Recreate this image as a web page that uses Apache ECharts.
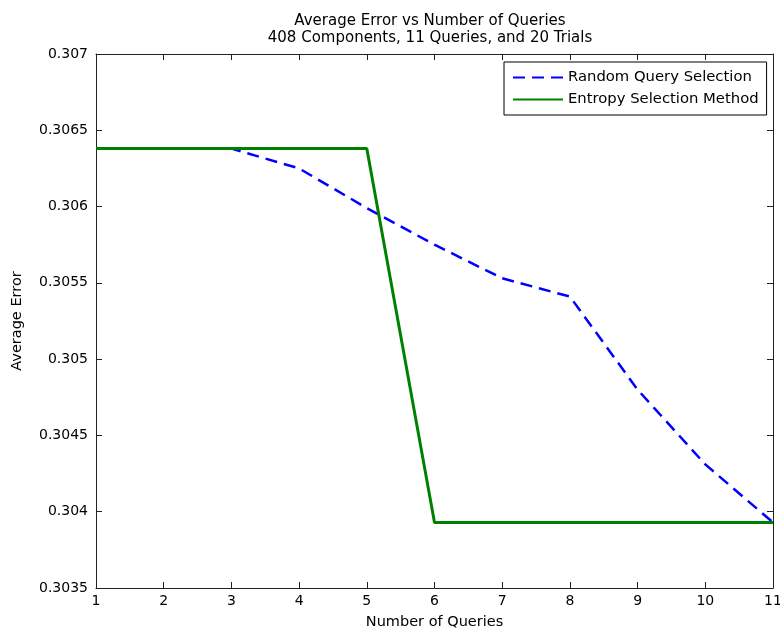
<!DOCTYPE html>
<html>

<head>
    <meta charset="utf-8">
    <title>Average Error vs Number of Queries</title>
    <script src="https://cdn.jsdelivr.net/npm/echarts@6/dist/echarts.min.js"></script>
    <style>
        html,
        body {
            width: 100%;
            height: 100%;
            margin: 0;
            padding: 0;
            overflow: hidden;
            background: #fff;
        }

        #main {
            width: 780px;
            height: 631px;
        }
    </style>
</head>

<body>
    <div id="main"></div>

    <script>
        // data
        const queries = [1, 2, 3, 4, 5, 6, 7, 8, 9, 10, 11];
        const randomErr = [0.30638, 0.30638, 0.30638, 0.30625, 0.30599, 0.30575, 0.30553, 0.30541, 0.30480, 0.30431, 0.30393];
        const entropyErr = [0.30638, 0.30638, 0.30638, 0.30638, 0.30638, 0.30393, 0.30393, 0.30393, 0.30393, 0.30393, 0.30393];
        const seriesNames = ['Random Query Selection', 'Entropy Selection Method'];

        const font = 'DejaVu Sans, Verdana, sans-serif';
        const axisColor = '#222';

        const pairs = arr => queries.map((q, i) => [q, arr[i]]);

        let myChart = echarts.init(document.getElementById('main'));

        const boxAxis = (extra) => Object.assign({
            type: 'value',
            axisLine: { show: true, onZero: false, lineStyle: { color: axisColor, width: 1 } },
            axisTick: { show: true, inside: true, length: 6, lineStyle: { color: axisColor } },
            splitLine: { show: false },
            axisLabel: { show: false }
        }, extra);

        const option = {
            animation: false,
            title: {
                text: 'Average Error vs Number of Queries\n408 Components, 11 Queries, and 20 Trials',
                left: 425,
                top: 8,
                textAlign: 'center',
                textStyle: {
                    fontFamily: font,
                    fontSize: 15,
                    fontWeight: 'normal',
                    color: '#000',
                    lineHeight: 17
                }
            },
            legend: {
                data: seriesNames,
                orient: 'vertical',
                left: 504,
                top: 62,
                itemWidth: 50,
                itemHeight: 14,
                itemGap: 7,
                padding: [8, 8, 8, 8],
                borderColor: '#000',
                borderWidth: 1,
                backgroundColor: '#fff',
                itemStyle: { opacity: 0 },
                textStyle: { fontFamily: font, fontSize: 14.8, color: '#000' }
            },
            grid: { left: 96, right: 7, top: 54, bottom: 43, outerBoundsMode: 'none' },
            xAxis: [
                boxAxis({
                    position: 'bottom',
                    min: 1, max: 11, interval: 1,
                    name: 'Number of Queries',
                    nameLocation: 'middle',
                    nameGap: 27,
                    nameTextStyle: { fontFamily: font, fontSize: 14.5, color: '#000' },
                    axisLabel: { show: true, margin: 6, fontFamily: font, fontSize: 14, color: '#000' }
                }),
                boxAxis({ position: 'top', min: 1, max: 11, interval: 1 })
            ],
            yAxis: [
                boxAxis({
                    position: 'left',
                    min: 0.3035, max: 0.307, interval: 0.0005,
                    name: 'Average Error',
                    nameLocation: 'middle',
                    nameGap: 71,
                    nameTextStyle: { fontFamily: font, fontSize: 14.5, color: '#000' },
                    axisLabel: { show: true, margin: 8, fontFamily: font, fontSize: 14, color: '#000' }
                }),
                boxAxis({ position: 'right', min: 0.3035, max: 0.307, interval: 0.0005 })
            ],
            series: [
                {
                    name: seriesNames[0],
                    type: 'line',
                    data: pairs(randomErr),
                    symbol: 'none',
                    lineStyle: { color: '#0000ff', width: 2.5, type: [12, 7] },
                    itemStyle: { color: '#0000ff' },
                    z: 2
                },
                {
                    name: seriesNames[1],
                    type: 'line',
                    data: pairs(entropyErr),
                    symbol: 'none',
                    lineStyle: { color: '#008000', width: 3 },
                    itemStyle: { color: '#008000' },
                    z: 3
                }
            ]
        };

        myChart.setOption(option);
    </script>
</body>

</html>
